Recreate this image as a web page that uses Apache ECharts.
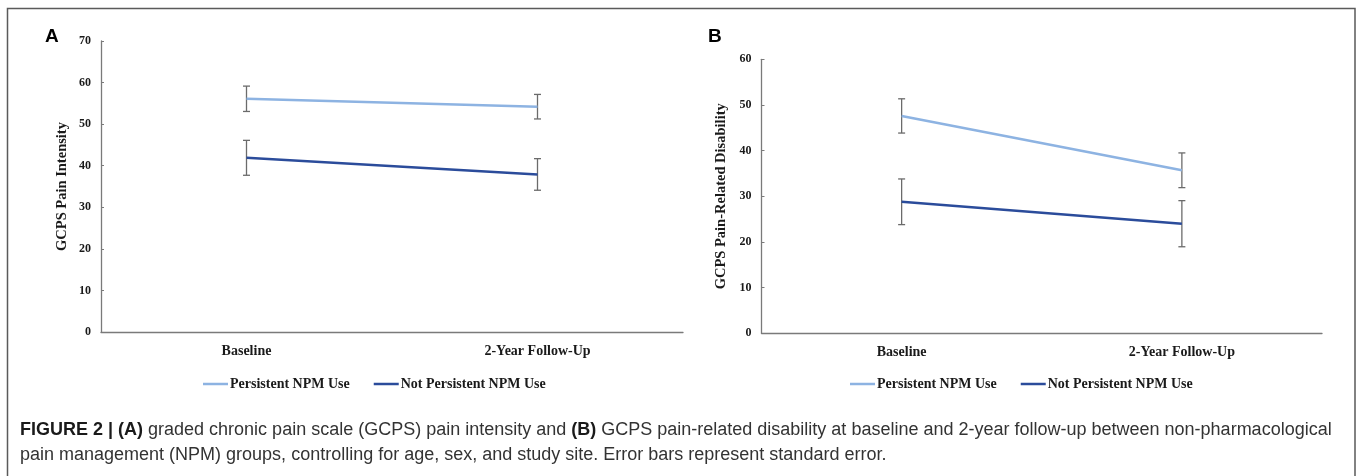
<!DOCTYPE html>
<html><head><meta charset="utf-8">
<script src="https://cdn.jsdelivr.net/npm/echarts@6/dist/echarts.min.js"></script>
<style>html,body{margin:0;padding:0;background:#fff}#c{width:1357px;height:476px}</style>
</head><body><div id="c"></div>
<script>
const categories = ['Baseline', '2-Year Follow-Up'];
const seriesNames = ['Persistent NPM Use', 'Not Persistent NPM Use'];
// Panel A: GCPS Pain Intensity
const aPersistent = [56.1, 54.2];
const aPersistentSE = [3.05, 2.95];
const aNotPersistent = [41.9, 37.9];
const aNotPersistentSE = [4.2, 3.8];
// Panel B: GCPS Pain-Related Disability
const bPersistent = [47.6, 35.7];
const bPersistentSE = [3.75, 3.8];
const bNotPersistent = [28.8, 24.0];
const bNotPersistentSE = [5.0, 5.05];
const aTicks = {min: 0, max: 70, interval: 10};
const bTicks = {min: 0, max: 60, interval: 10};

const light = '#8DB3E2', dark = '#2B4C9B';
const serif = '"Liberation Serif", "Times New Roman", serif';
const sans = '"Liberation Sans", Arial, sans-serif';

function errData(mean, se) {
  return mean.map((m, i) => [i, m - se[i], m + se[i]]);
}
function errRender(params, api) {
  const x = api.value(0);
  const lo = api.coord([x, api.value(1)]);
  const hi = api.coord([x, api.value(2)]);
  const w = 3.5;
  const st = {stroke: '#6b6b6b', lineWidth: 1.3};
  return {type: 'group', children: [
    {type: 'line', shape: {x1: lo[0], y1: lo[1], x2: hi[0], y2: hi[1]}, style: st},
    {type: 'line', shape: {x1: lo[0]-w, y1: lo[1], x2: lo[0]+w, y2: lo[1]}, style: st},
    {type: 'line', shape: {x1: hi[0]-w, y1: hi[1], x2: hi[0]+w, y2: hi[1]}, style: st}
  ]};
}
function xAxis(gi) {
  return {type: 'category', gridIndex: gi, data: categories, boundaryGap: true,
    axisLine: {lineStyle: {color: '#7a7a7a', width: 1.3}}, axisTick: {show: false},
    axisLabel: {fontFamily: serif, fontWeight: 'bold', fontSize: 14, color: '#1a1a1a', margin: 12}};
}
function yAxis(gi, t, name, gap) {
  return {type: 'value', gridIndex: gi, min: t.min, max: t.max, interval: t.interval,
    name: name, nameLocation: 'middle', nameGap: gap, nameRotate: 90,
    nameTextStyle: {fontFamily: serif, fontWeight: 'bold', fontSize: 14.5, color: '#1a1a1a'},
    splitLine: {show: false},
    axisLine: {show: true, lineStyle: {color: '#7a7a7a', width: 1.3}},
    axisTick: {show: true, inside: true, length: 3, lineStyle: {color: '#7a7a7a'}},
    axisLabel: {fontFamily: serif, fontWeight: 'bold', fontSize: 12, color: '#1a1a1a', margin: 10}};
}
function lineS(name, data, color, gi) {
  return {type: 'line', name: name, xAxisIndex: gi, yAxisIndex: gi, data: data,
    symbol: 'none', lineStyle: {color: color, width: 2.6}, itemStyle: {color: color}, z: 3};
}
function errS(mean, se, gi) {
  return {type: 'custom', xAxisIndex: gi, yAxisIndex: gi, data: errData(mean, se),
    renderItem: errRender, encode: {x: 0, y: [1, 2]}, z: 2, silent: true};
}
function legend(left, top) {
  return {left: left, top: top, padding: 0, data: seriesNames, icon: 'rect', itemWidth: 25, itemHeight: 2.5,
    itemGap: 24, textStyle: {fontFamily: serif, fontWeight: 'bold', fontSize: 14, color: '#1a1a1a', padding: [0, 0, 0, -3]}};
}

const chart = echarts.init(document.getElementById('c'), null, {renderer: 'canvas'});
chart.setOption({
  animation: false,
  grid: [
    {left: 101, top: 41, width: 582, height: 291},
    {left: 761.5, top: 59.3, width: 560.5, height: 274}
  ],
  xAxis: [xAxis(0), xAxis(1)],
  yAxis: [yAxis(0, aTicks, 'GCPS Pain Intensity', 31), yAxis(1, bTicks, 'GCPS Pain-Related Disability', 33)],
  legend: [legend(203, 377), legend(850, 377)],
  series: [
    errS(aPersistent, aPersistentSE, 0),
    errS(aNotPersistent, aNotPersistentSE, 0),
    lineS(seriesNames[0], aPersistent, light, 0),
    lineS(seriesNames[1], aNotPersistent, dark, 0),
    errS(bPersistent, bPersistentSE, 1),
    errS(bNotPersistent, bNotPersistentSE, 1),
    lineS(seriesNames[0], bPersistent, light, 1),
    lineS(seriesNames[1], bNotPersistent, dark, 1)
  ],
  graphic: [
    {type: 'polyline', shape: {points: [[7.5, 476], [7.5, 8.5], [1355, 8.5], [1355, 476]]},
      style: {stroke: '#5a5a5a', lineWidth: 1.5, fill: null}, silent: true},
    {type: 'text', left: 45, top: 27, style: {text: 'A', font: 'bold 19px ' + sans, fill: '#000'}},
    {type: 'text', left: 708, top: 27, style: {text: 'B', font: 'bold 19px ' + sans, fill: '#000'}},
    {type: 'text', left: 20, top: 421, style: {
      text: '{b|FIGURE 2 | (A)}{n| graded chronic pain scale (GCPS) pain intensity and }{b|(B)}{n| GCPS pain-related disability at baseline and 2-year follow-up between non-pharmacological}\n{n|pain management (NPM) groups, controlling for age, sex, and study site. Error bars represent standard error.}',
      rich: {
        b: {fontFamily: sans, fontWeight: 'bold', fontSize: 18, fill: '#1a1a1a', lineHeight: 25},
        n: {fontFamily: sans, fontSize: 18, fill: '#333', lineHeight: 25}
      }}}
  ]
});
</script></body></html>
